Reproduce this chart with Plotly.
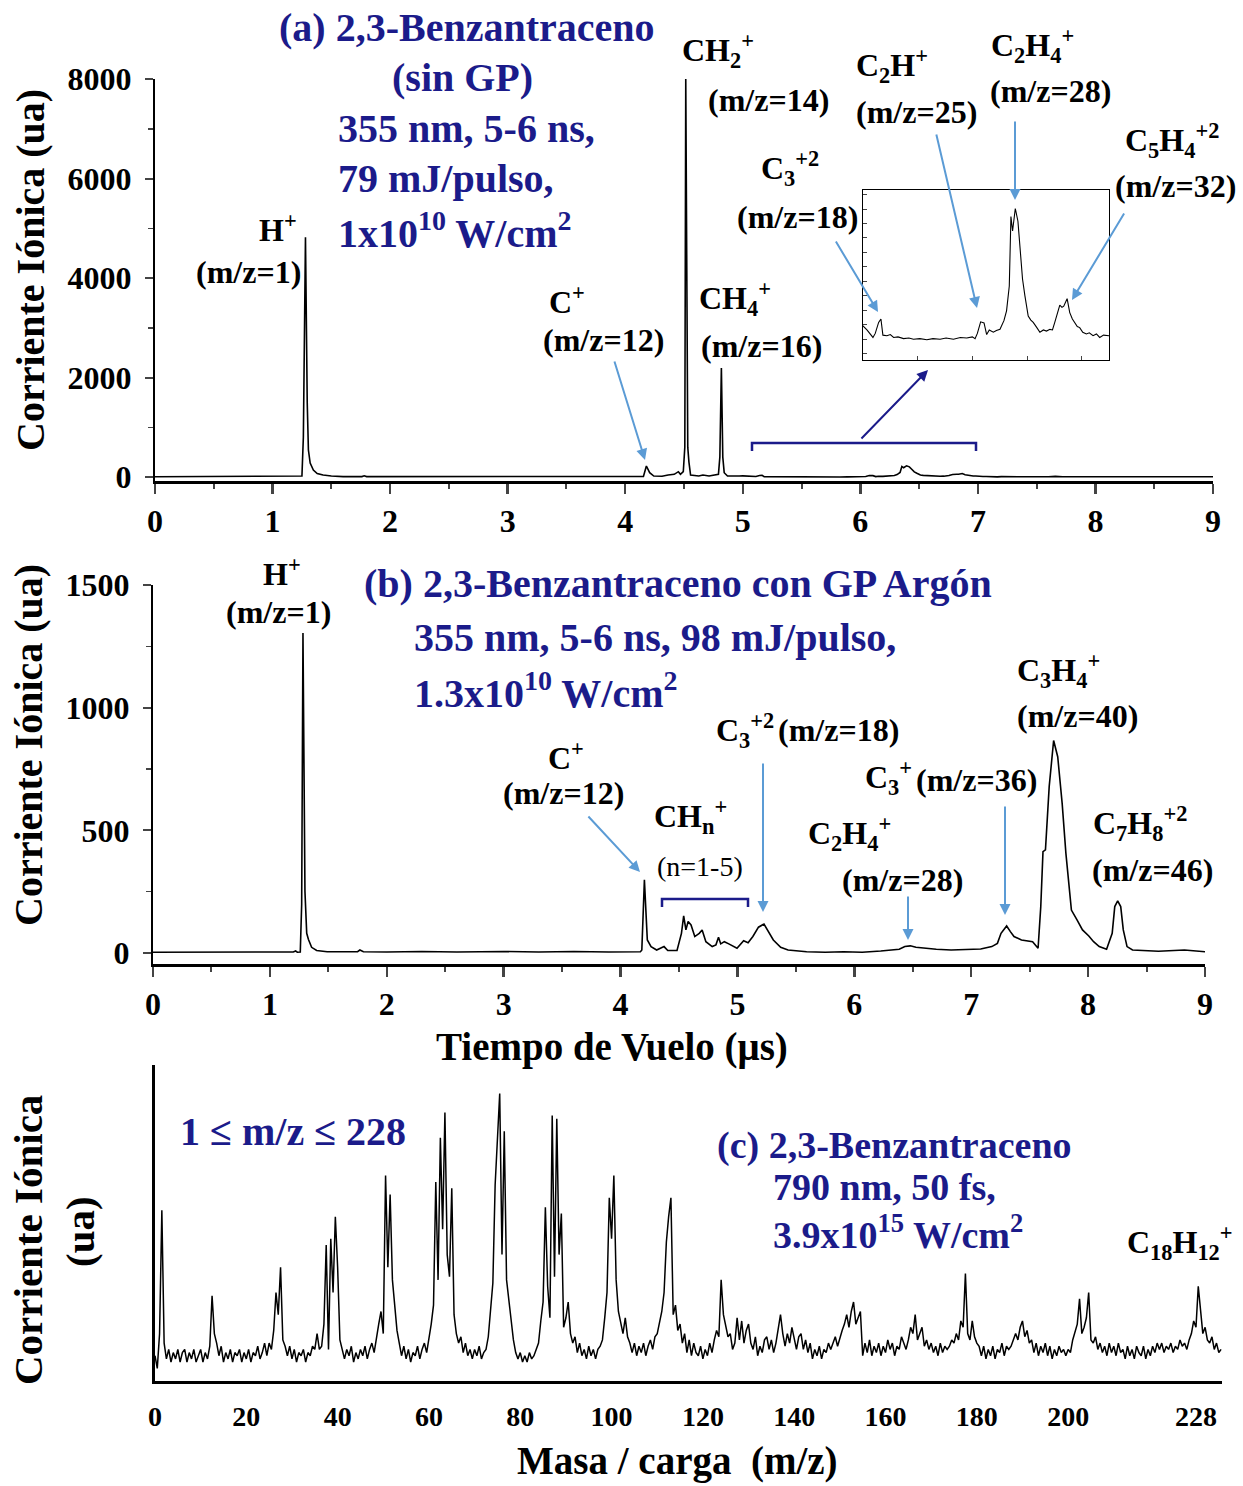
import numpy as np
import plotly.graph_objects as go

W, H = 1243, 1486

# ---------------- Panel (a): time of flight (us) vs ion current (ua), sin GP
tof_a = [0.0, 0.5, 1.0, 1.24, 1.25, 1.262, 1.28, 1.295, 1.305, 1.32, 1.347, 1.38, 1.43, 1.5, 1.6,
         1.76, 1.78, 1.8, 2.2, 2.6, 3.0, 3.4, 3.8, 4.1, 4.155, 4.18, 4.208, 4.243, 4.313, 4.365,
         4.417, 4.452, 4.47, 4.494, 4.507, 4.515, 4.532, 4.542, 4.556, 4.626, 4.661, 4.713, 4.765,
         4.793, 4.805, 4.818, 4.83, 4.842, 4.87, 4.94, 4.97,
         5.0, 5.036, 5.091, 5.112, 5.143, 5.164, 5.182, 5.219, 5.25, 5.28, 5.32, 5.371, 5.42, 5.462,
         5.52, 5.584, 5.64, 5.705, 5.76, 5.827, 5.89, 5.949, 6.0, 6.025, 6.046, 6.076, 6.107, 6.131,
         6.155, 6.192, 6.22, 6.253, 6.289, 6.313, 6.338, 6.353, 6.368, 6.393, 6.417, 6.435, 6.459,
         6.481, 6.511, 6.535, 6.557, 6.59, 6.618, 6.65, 6.678, 6.71, 6.733, 6.754, 6.785, 6.8, 6.82,
         6.836, 6.867, 6.891, 6.915, 6.937, 6.96, 6.982, 7.01, 7.043, 7.07, 7.104, 7.135, 7.165, 7.2,
         7.25, 7.3, 7.363, 7.42, 7.6, 7.659, 7.72, 8.0, 8.5, 9.0]
ion_a = [5, 5, 5, 5, 20, 800, 4820, 1500, 543, 280, 141, 70, 40, 20, 8,
         8, 25, 8, 6, 5, 6, 5, 6, 8, 10, 221, 87, 20, 15, 40,
         54, 107, 54, 107, 600, 8000, 600, 300, 40, 20, 40, 20, 40,
         54, 400, 2190, 400, 87, 20, 13, 20,
         23, 16, 3, 10, 29, 35, 7, 6, 8, 3, 4, 1, 2, 0,
         1, -1, 1, 0, 2, 0, 3, 2, 4, 1, 10, 30, 28, 8,
         16, 12, 15, 17, 32, 49, 92, 212, 187, 226, 204, 162, 104,
         75, 40, 33, 29, 20, 12, 16, 14, 17, 16, 29, 52, 59, 55,
         57, 70, 46, 35, 29, 22, 20, 12, 9, 11, 6, 9, 3, 7,
         6, 5, 15, 5, 5, 13, 5, 4, 5, 4]

# ---------------- Panel (b): con GP Argon
tof_b = [0.0, 0.5, 1.0, 1.2, 1.22, 1.235, 1.26, 1.272, 1.283, 1.292, 1.3, 1.315, 1.33, 1.357, 1.4,
         1.49, 1.6, 1.75, 1.77, 1.8, 2.0, 2.3, 2.6, 3.0, 3.3, 3.6, 3.9, 4.1, 4.17, 4.182, 4.204,
         4.229, 4.261, 4.309, 4.372, 4.404, 4.483, 4.521, 4.54, 4.559, 4.578, 4.603, 4.635, 4.673,
         4.698, 4.73, 4.784, 4.816, 4.838, 4.857, 4.888, 4.926, 4.996, 5.053, 5.091, 5.132, 5.18,
         5.227, 5.259, 5.307, 5.37, 5.433, 5.592, 5.75, 5.909, 6.067, 6.226, 6.384, 6.432, 6.479,
         6.527, 6.606, 6.701, 6.828, 6.954, 7.081, 7.176, 7.224, 7.255, 7.303, 7.335, 7.366, 7.43,
         7.525, 7.572, 7.595, 7.614, 7.635, 7.667, 7.705, 7.74, 7.778, 7.81, 7.857, 7.905, 7.952,
         8.006, 8.047, 8.095, 8.158, 8.206, 8.228, 8.253, 8.279, 8.301, 8.333, 8.38, 8.475, 8.602,
         8.824, 9.0]
ion_b = [3, 3, 3, 4, 8, 3, 4, 200, 1304, 500, 250, 80, 55, 23, 10,
         5, 5, 5, 12, 5, 4, 6, 4, 6, 4, 6, 4, 6, 5, 12, 298,
         53, 26, 12, 26, 10, 10, 80, 151, 94, 128, 114, 67, 80,
         94, 46, 26, 33, 64, 37, 46, 37, 19, 50, 42, 67, 105,
         118, 94, 53, 23, 12, 5, 3, 5, 3, 8, 15, 26, 29,
         23, 19, 15, 12, 15, 16, 26, 39, 80, 110, 87, 67, 53,
         46, 19, 189, 413, 420, 678, 866, 800, 610, 406, 175, 135, 94,
         69, 46, 26, 15, 80, 189, 212, 189, 94, 26, 12, 10, 7,
         12, 5]

# ---------------- Panel (c): mass/charge spectrum, 790 nm, 50 fs (m/z sampled every 0.5)
mz_start, mz_step = 0.0, 0.5
ion_c = [
    8, 4, 15, 54, 12, 7, 10, 6, 9, 7, 10, 6, 9, 10, 6, 9, 7, 10, 6, 8,            # 0
    10, 6, 9, 7, 11, 27, 15, 12, 8, 11, 6, 9, 7, 10, 6, 9, 8, 10, 6, 9,           # 10
    7, 10, 6, 9, 8, 11, 7, 9, 12, 8, 12, 10, 16, 28, 21, 36, 13, 11, 8, 11,       # 20
    7, 10, 6, 9, 8, 10, 6, 9, 8, 11, 10, 15, 10, 11, 18, 43, 10, 45, 28, 52,      # 30
    36, 13, 10, 7, 10, 8, 11, 6, 9, 7, 10, 8, 11, 7, 10, 12, 9, 14, 18, 22,       # 40
    15, 65, 36, 59, 32, 24, 16, 12, 8, 11, 7, 10, 6, 9, 8, 11, 7, 10, 12, 9,      # 50
    13, 18, 24, 63, 32, 77, 48, 85, 40, 33, 61, 21, 15, 12, 14, 9, 12, 8, 10, 7,  # 60
    10, 8, 11, 7, 9, 10, 14, 22, 31, 62, 77, 91, 40, 79, 32, 26, 20, 13, 9, 7,    # 70
    9, 6, 8, 6, 9, 7, 8, 10, 12, 19, 25, 55, 30, 20, 84, 33, 83, 40, 53, 17,      # 80
    20, 25, 15, 12, 14, 9, 12, 8, 10, 7, 11, 8, 10, 7, 10, 11, 13, 20, 28, 58,    # 90
    45, 65, 32, 22, 19, 15, 20, 14, 12, 9, 12, 8, 11, 9, 12, 8, 11, 13, 10, 14,   # 100
    15, 18, 22, 28, 44, 52, 58, 21, 24, 16, 18, 12, 15, 9, 13, 8, 12, 9, 8, 11,   # 110
    7, 10, 8, 12, 9, 13, 16, 14, 32, 21, 17, 14, 15, 10, 12, 20, 13, 19, 12, 16,  # 120
    18, 12, 10, 14, 8, 11, 9, 13, 14, 10, 13, 9, 12, 16, 21, 15, 11, 15, 12, 17,  # 130
    13, 10, 14, 15, 10, 13, 9, 12, 7, 10, 8, 11, 7, 10, 9, 12, 10, 12, 14, 11,    # 140
    14, 16, 18, 21, 17, 22, 25, 18, 20, 22, 8, 12, 9, 13, 8, 11, 9, 12, 8, 11,    # 150
    9, 13, 10, 12, 8, 11, 10, 14, 12, 10, 13, 17, 15, 21, 13, 15, 17, 11, 13, 10, # 160
    12, 9, 11, 8, 12, 9, 11, 10, 11, 13, 12, 15, 13, 19, 17, 34, 15, 13, 19, 14,  # 170
    12, 11, 8, 11, 7, 10, 8, 11, 7, 10, 9, 12, 8, 11, 10, 11, 13, 15, 13, 17,     # 180
    19, 14, 16, 12, 13, 9, 12, 8, 11, 9, 12, 8, 11, 7, 10, 8, 11, 9, 10, 8,       # 190
    10, 9, 13, 16, 18, 26, 15, 17, 20, 28, 13, 12, 14, 10, 12, 9, 11, 8, 12, 9,   # 200
    11, 8, 12, 9, 10, 7, 11, 8, 10, 7, 11, 9, 8, 11, 7, 10, 8, 11, 9, 12,         # 210
    10, 12, 9, 11, 10, 12, 9, 11, 10, 13, 11, 12, 10, 13, 15, 19, 17, 30, 22, 15, # 220
    17, 13, 12, 14, 10, 12, 9, 10,                                                # 230
]
mz_c = [mz_start + i * mz_step for i in range(len(ion_c))]

xticks_ab = [0, 1, 2, 3, 4, 5, 6, 7, 8, 9]
yticks_a = [0, 2000, 4000, 6000, 8000]
yticks_b = [0, 500, 1000, 1500]
xticks_c = [0, 20, 40, 60, 80, 100, 120, 140, 160, 180, 200, 228]

assert len(tof_a) == len(ion_a)
assert len(tof_b) == len(ion_b)

NAVY = "#1b1b8a"
ABLUE = "#5b9bd5"
FONT = "Liberation Serif"


def P(px, py):
    return px / W, 1 - py / H


def dom_x(p0, p1):
    return [p0 / W, p1 / W]


def dom_y(top, bottom):
    return [1 - bottom / H, 1 - top / H]


fig = go.Figure()
line_kw = dict(mode="lines", showlegend=False, hoverinfo="skip")
fig.add_trace(go.Scatter(x=tof_a, y=ion_a, line=dict(color="black", width=1.6), xaxis="x", yaxis="y", **line_kw))
fig.add_trace(go.Scatter(x=tof_a, y=ion_a, line=dict(color="black", width=1.1), xaxis="x4", yaxis="y4", **line_kw))
fig.add_trace(go.Scatter(x=tof_b, y=ion_b, line=dict(color="black", width=1.6), xaxis="x2", yaxis="y2", **line_kw))
fig.add_trace(go.Scatter(x=mz_c, y=ion_c, line=dict(color="black", width=1.5), xaxis="x3", yaxis="y3", **line_kw))

tickfont = dict(family=FONT, size=32, color="black", weight="bold")
common = dict(showgrid=False, zeroline=False, showline=True, linecolor="black", automargin=False)

fig.update_layout(
    width=W, height=H, margin=dict(l=0, r=0, t=0, b=0, pad=0, autoexpand=False),
    paper_bgcolor="white", plot_bgcolor="white",
    xaxis=dict(domain=dom_x(155, 1213), range=[0, 9], anchor="y", tickvals=xticks_ab,
               ticks="outside", ticklen=10, tickwidth=2.5, linewidth=2.5, tickfont=tickfont,
               minor=dict(dtick=0.5, ticks="outside", ticklen=5, tickwidth=2), **common),
    yaxis=dict(domain=dom_y(79, 481), range=[-80, 8000], anchor="x", tickvals=yticks_a,
               ticks="outside", ticklen=8, tickwidth=2, linewidth=2, tickfont=tickfont,
               ticklabelstandoff=7,
               minor=dict(dtick=1000, ticks="outside", ticklen=5, tickwidth=1.5), **common),
    xaxis2=dict(domain=dom_x(153, 1205), range=[0, 9], anchor="y2", tickvals=xticks_ab,
                ticks="outside", ticklen=10, tickwidth=2.5, linewidth=2.5, tickfont=tickfont,
                minor=dict(dtick=0.5, ticks="outside", ticklen=5, tickwidth=2), **common),
    yaxis2=dict(domain=dom_y(585, 964), range=[-45, 1500], anchor="x2", tickvals=yticks_b,
                ticks="outside", ticklen=8, tickwidth=2, linewidth=2, tickfont=tickfont,
                ticklabelstandoff=7,
                minor=dict(dtick=250, ticks="outside", ticklen=5, tickwidth=1.5), **common),
    xaxis3=dict(domain=dom_x(155, 1222), range=[0, 233.7], anchor="y3", tickvals=xticks_c,
                ticks="", linewidth=3, ticklabelstandoff=8,
                tickfont=dict(family=FONT, size=28, color="black", weight="bold"), **common),
    yaxis3=dict(domain=dom_y(1065, 1381), range=[0, 100], anchor="x3", ticks="",
                showticklabels=False, linewidth=3, **common),
    xaxis4=dict(domain=dom_x(863, 1109), range=[5, 7.25], anchor="y4", tickvals=[5.5, 6, 6.5, 7],
                ticks="inside", ticklen=4, tickwidth=1, showticklabels=False, mirror=True,
                linewidth=1, **common),
    yaxis4=dict(domain=dom_y(190, 360), range=[-36, 258], anchor="x4", dtick=25, tick0=0,
                ticks="inside", ticklen=4, tickwidth=1, showticklabels=False, mirror=True,
                linewidth=1, **common),
)

ann = []


def lab(text, px, py, size=32, color="black", xanchor="center", bold=True, angle=0):
    x, y = P(px, py)
    t = f"<b>{text}</b>" if bold else text
    ann.append(dict(text=t, x=x, y=y, xref="paper", yref="paper", xanchor=xanchor, yanchor="middle",
                    showarrow=False, textangle=angle,
                    font=dict(family=FONT, size=size, color=color)))


def arrow(tail, head, color=ABLUE, width=2):
    x, y = P(*head)
    ann.append(dict(text="", x=x, y=y, xref="paper", yref="paper", showarrow=True,
                    ax=tail[0] - head[0], ay=tail[1] - head[1], arrowcolor=color,
                    arrowwidth=width, arrowhead=2, arrowsize=1.1, standoff=0, startstandoff=0))


NS = 40  # navy text size

# ----- panel (a) texts
lab("(a) 2,3-Benzantraceno", 466, 28, NS, NAVY)
lab("(sin GP)", 462, 78, NS, NAVY)
lab("355 nm, 5-6 ns,", 336, 128, NS, NAVY, "left")
lab("79 mJ/pulso,", 336, 178, NS, NAVY, "left")
lab("1x10<sup>10</sup> W/cm<sup>2</sup>", 336, 230, NS, NAVY, "left")
lab("Corriente Iónica (ua)", 30, 270, 40, angle=-90)

lab("H<sup>+</sup>", 278, 228)
lab("(m/z=1)", 248, 272)
lab("C<sup>+</sup>", 567, 300)
lab("(m/z=12)", 603, 340)
lab("CH<sub>2</sub><sup>+</sup>", 718, 50)
lab("(m/z=14)", 768, 100)
lab("CH<sub>4</sub><sup>+</sup>", 735, 298)
lab("(m/z=16)", 762, 346)
lab("C<sub>3</sub><sup>+2</sup>", 790, 168)
lab("(m/z=18)", 797, 217)
lab("C<sub>2</sub>H<sup>+</sup>", 892, 65)
lab("(m/z=25)", 916, 112)
lab("C<sub>2</sub>H<sub>4</sub><sup>+</sup>", 1032, 46)
lab("(m/z=28)", 1050, 91)
lab("C<sub>5</sub>H<sub>4</sub><sup>+2</sup>", 1172, 140)
lab("(m/z=32)", 1175, 186)

arrow((614, 360), (645, 460))
arrow((835, 240), (878, 312))
arrow((936, 133), (977, 308))
arrow((1015, 120), (1015, 200))
arrow((1125, 212), (1072, 300))
arrow((860, 440), (928, 370), color=NAVY, width=2)

# ----- panel (b) texts
lab("(b) 2,3-Benzantraceno con GP Argón", 678, 584, NS, NAVY)
lab("355 nm, 5-6 ns, 98 mJ/pulso,", 412, 637, NS, NAVY, "left")
lab("1.3x10<sup>10</sup> W/cm<sup>2</sup>", 412, 690, NS, NAVY, "left")
lab("Corriente Iónica (ua)", 28, 745, 40, angle=-90)
lab("Tiempo de Vuelo (μs)", 612, 1047, 39)

lab("H<sup>+</sup>", 282, 572)
lab("(m/z=1)", 278, 612)
lab("C<sup>+</sup>", 566, 756)
lab("(m/z=12)", 563, 793)
lab("CH<sub>n</sub><sup>+</sup>", 690, 817)
lab("(n=1-5)", 700, 867, 28, bold=False)
lab("C<sub>3</sub><sup>+2</sup>", 745, 730)
lab("(m/z=18)", 838, 730)
lab("C<sub>2</sub>H<sub>4</sub><sup>+</sup>", 850, 833)
lab("(m/z=28)", 902, 880)
lab("C<sub>3</sub><sup>+</sup>", 888, 777)
lab("(m/z=36)", 976, 780)
lab("C<sub>3</sub>H<sub>4</sub><sup>+</sup>", 1058, 670)
lab("(m/z=40)", 1077, 716)
lab("C<sub>7</sub>H<sub>8</sub><sup>+2</sup>", 1140, 823)
lab("(m/z=46)", 1152, 870)

arrow((587, 815), (640, 872))
arrow((763, 762), (763, 912))
arrow((908, 895), (908, 940))
arrow((1005, 805), (1005, 915))

# ----- panel (c) texts
lab("1 ≤ m/z ≤ 228", 293, 1131, NS, NAVY)
lab("(c) 2,3-Benzantraceno", 715, 1145, 38, NAVY, "left")
lab("790 nm, 50 fs,", 771, 1187, 38, NAVY, "left")
lab("3.9x10<sup>15</sup> W/cm<sup>2</sup>", 771, 1232, 38, NAVY, "left")
lab("C<sub>18</sub>H<sub>12</sub><sup>+</sup>", 1180, 1242)
lab("Corriente Iónica", 28, 1240, 41, angle=-90)
lab("(ua)", 80, 1232, 41, angle=-90)
lab("Masa / carga  (m/z)", 677, 1461, 39)

fig.update_layout(annotations=ann)


def bracket(x0, x1, y, ytick):
    a = P(x0, ytick)
    b = P(x0, y)
    c = P(x1, y)
    d = P(x1, ytick)
    return dict(type="path", xref="paper", yref="paper",
                path=f"M {a[0]},{a[1]} L {b[0]},{b[1]} L {c[0]},{c[1]} L {d[0]},{d[1]}",
                line=dict(color=NAVY, width=2.5))


fig.update_layout(shapes=[bracket(752, 976, 443, 451), bracket(662, 748, 899, 907)])

# remove the default page margin so the figure sits at the window's top-left corner
fig.write_html("out.html", config={"displayModeBar": False, "staticPlot": True},
               post_script="document.body.style.margin='0';document.body.style.overflow='hidden';")
